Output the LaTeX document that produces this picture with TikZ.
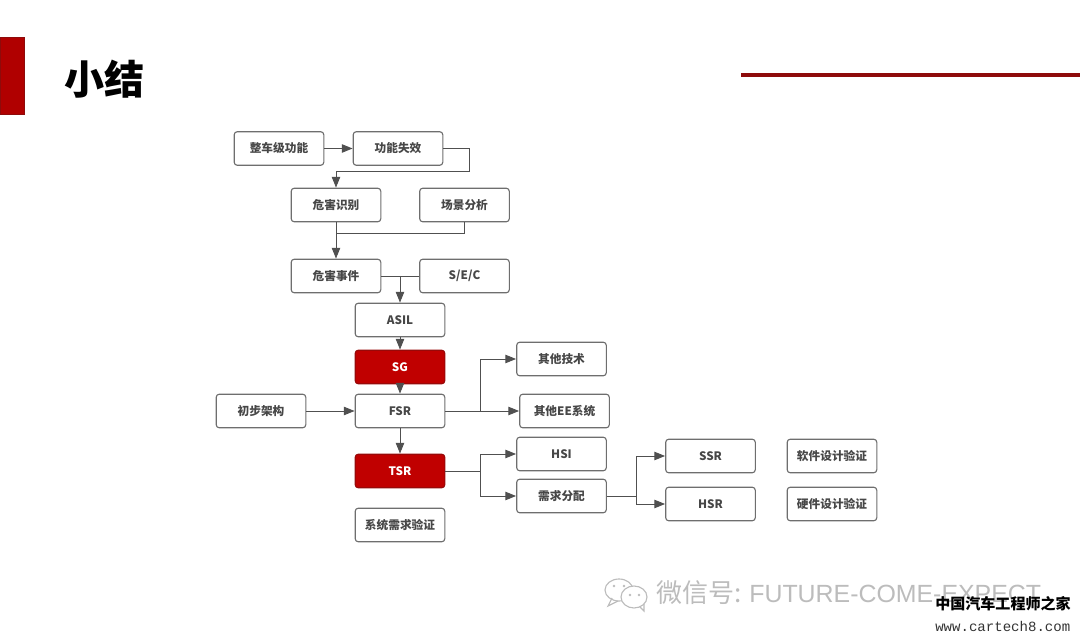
\documentclass[tikz,border=0pt]{standalone}
\usepackage{fontspec}
\setmainfont{Noto Sans CJK SC}
\newfontfamily\markfont{Liberation Sans}
\newfontfamily\urlfont{Liberation Mono}
\usetikzlibrary{arrows.meta}
\definecolor{rojo}{HTML}{C00000}
\definecolor{rojocab}{HTML}{B00000}
\definecolor{rojoosc}{HTML}{8E0B0B}
\definecolor{borde}{HTML}{6E6E6E}
\definecolor{linea}{HTML}{505050}
\definecolor{marca}{HTML}{BCBCBC}
\tikzset{
  caja/.style={draw=borde,line width=0.8pt,rounded corners=2.2pt,fill=white,
    minimum width=2.24cm,minimum height=0.84cm,inner sep=0pt,
    text=black!72,font=\bfseries\fontsize{8.3}{10}\selectfont},
  cajaroja/.style={caja,draw=rojoosc!80!rojo,fill=rojo,text=white},
  flecha/.style={-{Triangle[length=2.7mm,width=2.1mm]},draw=linea,line width=0.7pt},
  tramo/.style={draw=linea,line width=0.7pt},
}
\begin{document}
\begin{tikzpicture}[x=0.025cm,y=-0.025cm]
  \useasboundingbox (0,0) rectangle (1080,642);
  % Cabecera
  \fill[rojocab,draw=rojoosc] (0,37) rectangle (24,114);
  \draw[rojoosc,line width=2.2pt] (741,75)--(1080,75);
  \node[font=\bfseries\fontsize{28.5}{32}\selectfont,text=black] (titulo) at (105,79) {小结};
  % Cajas
  \foreach \nom/\xi/\yi/\txt in {
      veh/279/148.5/整车级功能, fallo/398/148.5/功能失效,
      iden/336/205/危害识别, esc/464.5/205/场景分析,
      evt/336/276/危害事件, sec/464.5/276/S\slash E\slash C,
      asil/400/320/ASIL, fsr/400/411/FSR, arq/261/411/初步架构,
      tec/561.5/359/其他技术, ee/564.5/411/其他EE系统,
      hsi/561.5/454/HSI, rep/561.5/496/需求分配,
      ver/400/525/系统需求验证,
      ssr/710.5/456/SSR, hsr/710.5/504/HSR,
      sw/832/456/软件设计验证, hw/832/504/硬件设计验证} {
    \node[caja] (\nom) at (\xi,\yi) {\txt};
  }
  \node[cajaroja] (sg) at (400,367) {SG};
  \node[cajaroja] (tsr) at (400,471) {TSR};
  % Puntos de paso
  \coordinate (a1) at (469,148.5);
  \coordinate (a2) at (469,171);
  \coordinate (a3) at (336,171);
  \coordinate (b1) at (464.5,233);
  \coordinate (b2) at (336,233);
  \coordinate (c1) at (400,276);
  \coordinate (d1) at (480,411);
  \coordinate (d2) at (480,359);
  \coordinate (e1) at (480,471);
  \coordinate (e2) at (480,454);
  \coordinate (e3) at (480,496);
  \coordinate (f1) at (636,496);
  \coordinate (f2) at (636,456);
  \coordinate (f3) at (636,504);
  % Conectores
  \draw[flecha] (veh)--(fallo);
  \draw[flecha] (fallo.east)--(a1)--(a2)--(a3)--(iden.north);
  \draw[flecha] (iden)--(evt);
  \draw[tramo] (esc.south)--(b1)--(b2);
  \draw[tramo] (evt)--(sec);
  \draw[flecha] (c1)--(asil);
  \draw[flecha] (asil)--(sg);
  \draw[flecha] (sg)--(fsr);
  \draw[flecha] (arq)--(fsr);
  \draw[flecha] (fsr)--(ee);
  \draw[flecha] (d1)--(d2)--(tec.west);
  \draw[flecha] (fsr)--(tsr);
  \draw[tramo] (tsr.east)--(e1);
  \draw[flecha] (e1)--(e2)--(hsi.west);
  \draw[flecha] (e1)--(e3)--(rep.west);
  \draw[tramo] (rep.east)--(f1);
  \draw[flecha] (f1)--(f2)--(ssr.west);
  \draw[flecha] (f1)--(f3)--(hsr.west);
  % Marca de agua
  \begin{scope}[marca,line width=0.8pt]
    \draw (619,590) ellipse (14 and 11);
    \draw (612,598)--(608,606)--(618,601);
    \draw[fill=white] (634,597) ellipse (13 and 11);
    \draw (640,607)--(644,611)--(644,604);
    \foreach \xi/\yi in {614/586,624/586,630/595,639/595} {
      \fill (\xi,\yi) circle (1.3);
    }
  \end{scope}
  \node[anchor=west,inner sep=0pt,text=marca,font=\fontsize{18.5}{22}\selectfont] (wx) at (656,593)
    {微信号: {\markfont\fontsize{17.7}{22}\selectfont FUTURE-COME-EXPECT}};
  \node[anchor=west,inner sep=0pt,text=black,font=\bfseries\fontsize{10.7}{12}\selectfont] (sitio) at (935,604)
    {中国汽车工程师之家};
  \node[anchor=west,inner sep=0pt,text=black!80,font=\fontsize{10}{13}\selectfont] (web) at (935,626)
    {\urlfont www.cartech8.com};
\end{tikzpicture}
\end{document}
